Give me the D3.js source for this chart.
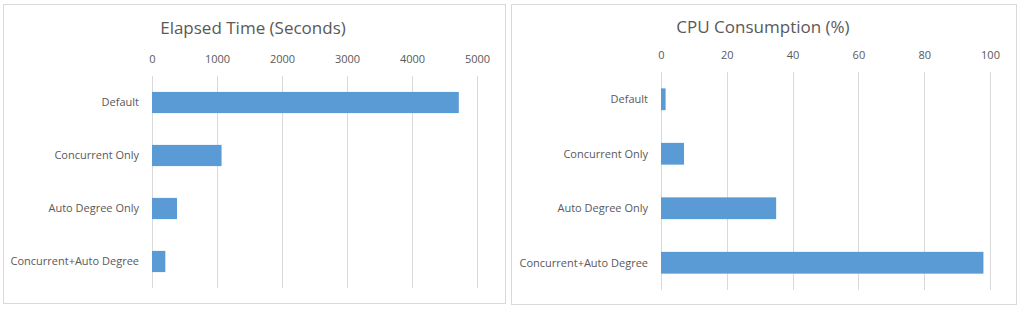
<!DOCTYPE html>
<html>
<head>
<meta charset="utf-8">
<script src="https://d3js.org/d3.v7.min.js"></script>
<style>
  body { margin: 0; background: #fff; }
  svg text { font-family: "Open Sans", sans-serif; fill: #595959; }
</style>
</head>
<body>
<svg id="chart" width="1024" height="312"></svg>
<script>
const categories = ["Default", "Concurrent Only", "Auto Degree Only", "Concurrent+Auto Degree"];
const elapsedSeconds = [4720, 1070, 385, 205];
const cpuPercent = [1.4, 7, 35, 98];
const elapsedTicks = [0, 1000, 2000, 3000, 4000, 5000];
const cpuTicks = [0, 20, 40, 60, 80, 100];

const svg = d3.select("#chart");

// one bordered panel per chart
function drawPanel(opts) {
  const g = svg.append("g");

  g.append("rect")
    .attr("x", opts.box[0] + 0.5)
    .attr("y", opts.box[1] + 0.5)
    .attr("width", opts.box[2])
    .attr("height", opts.box[3])
    .attr("fill", "#fff")
    .attr("stroke", "#d9d9d9");

  g.append("text")
    .attr("x", opts.titleX)
    .attr("y", opts.titleY)
    .attr("text-anchor", "middle")
    .attr("font-size", "17px")
    .text(opts.title);

  const x = d3.scaleLinear().domain([0, opts.ticks[opts.ticks.length - 1]]).range(opts.xRange);
  const y = d3.scaleBand().domain(categories).range(opts.yRange)
    .paddingInner(0.6).paddingOuter(0.3);

  // gridlines
  g.selectAll(".grid")
    .data(opts.ticks)
    .join("line")
    .attr("x1", d => Math.round(x(d)) + 0.5)
    .attr("x2", d => Math.round(x(d)) + 0.5)
    .attr("y1", opts.yRange[0])
    .attr("y2", opts.yRange[1])
    .attr("stroke", "#d9d9d9");

  // top axis labels
  const axis = g.append("g")
    .attr("transform", `translate(0,${opts.yRange[0]})`)
    .call(d3.axisTop(x).tickValues(opts.ticks).tickFormat(d3.format("d"))
      .tickSize(0).tickPadding(13));
  axis.select(".domain").remove();
  axis.selectAll("text").attr("font-size", "11px").attr("font-family", null).attr("fill", null);

  g.selectAll(".bar")
    .data(opts.values)
    .join("rect")
    .attr("x", x(0))
    .attr("y", (d, i) => y(categories[i]))
    .attr("width", d => x(d) - x(0))
    .attr("height", y.bandwidth())
    .attr("fill", "#5b9bd5");

  g.selectAll(".cat")
    .data(categories)
    .join("text")
    .attr("x", x(0) - 13)
    .attr("y", d => y(d) + y.bandwidth() / 2)
    .attr("dy", "0.35em")
    .attr("text-anchor", "end")
    .attr("font-size", "11px")
    .text(d => d);
}

drawPanel({
  box: [3, 4, 502, 299],
  title: "Elapsed Time (Seconds)",
  titleX: 253, titleY: 34,
  values: elapsedSeconds,
  ticks: elapsedTicks,
  xRange: [152, 477],
  yRange: [76, 288]
});

drawPanel({
  box: [511, 4, 505, 300],
  title: "CPU Consumption (%)",
  titleX: 763, titleY: 33,
  values: cpuPercent,
  ticks: cpuTicks,
  xRange: [661, 990],
  yRange: [72, 290]
});
</script>
</body>
</html>
